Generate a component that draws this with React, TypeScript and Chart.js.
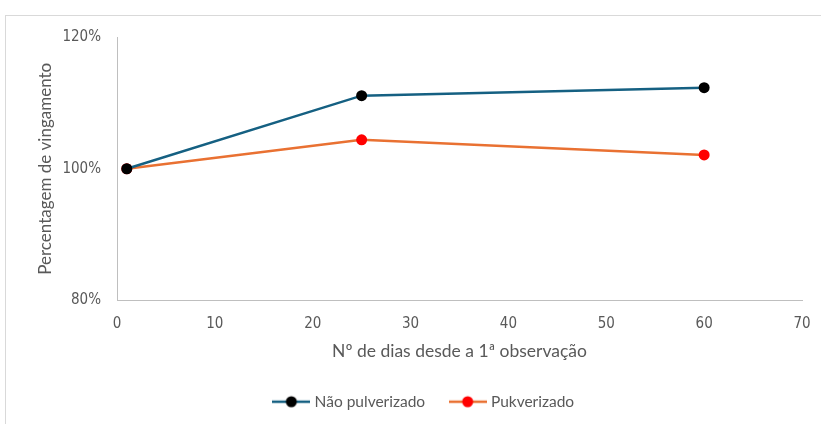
import React, { useEffect, useRef } from "react";
import { Chart, registerables } from "chart.js";

Chart.register(...registerables);

const days: number[] = [1, 25, 60];
const naoPulverizado: number[] = [100, 111.1, 112.3];
const pulverizado: number[] = [100, 104.4, 102.1];
const seriesLabels: string[] = ["Não pulverizado", "Pukverizado"];
const xTitle = "Nº de dias desde a 1ª observação";
const yTitle = "Percentagem de vingamento";

const BLUE = "#156082";
const ORANGE = "#E97132";
const TICK_COLOR = "#595959";
const AXIS_COLOR = "#BFBFBF";
const TICK_FONT = "'DejaVu Sans Condensed', Roboto, sans-serif";
const TEXT_FONT = "Lato, sans-serif";

const LEGEND_DX = 24;
const LEGEND_DY = -3.5;

function makeLegendIcon(lineColor: string, dotColor: string): HTMLCanvasElement {
  const c = document.createElement("canvas");
  c.width = 38;
  c.height = 14;
  const ctx = c.getContext("2d")!;
  ctx.strokeStyle = lineColor;
  ctx.lineWidth = 2.5;
  ctx.beginPath();
  ctx.moveTo(0, 7);
  ctx.lineTo(38, 7);
  ctx.stroke();
  ctx.fillStyle = dotColor;
  ctx.beginPath();
  ctx.arc(19, 7, 5.5, 0, Math.PI * 2);
  ctx.fill();
  return c;
}

const legendShift = {
  id: "legendShift",
  afterLayout(chart: any) {
    const l = chart.legend;
    if (!l) return;
    l.left += LEGEND_DX;
    l.right += LEGEND_DX;
    l.top += LEGEND_DY;
    l.bottom += LEGEND_DY;
  },
};

export default function App() {
  const ref = useRef<HTMLCanvasElement | null>(null);

  useEffect(() => {
    if (!ref.current) return;
    const icons = [makeLegendIcon(BLUE, "#000000"), makeLegendIcon(ORANGE, "#FF0000")];
    const chart = new Chart(ref.current, {
      type: "line",
      plugins: [legendShift],
      data: {
        datasets: [
          {
            label: seriesLabels[0],
            data: days.map((d, i) => ({ x: d, y: naoPulverizado[i] })),
            borderColor: BLUE,
            backgroundColor: "#000000",
            borderWidth: 2.5,
            pointRadius: 5.5,
            pointBackgroundColor: "#000000",
            pointBorderWidth: 0,
            tension: 0,
          },
          {
            label: seriesLabels[1],
            data: days.map((d, i) => ({ x: d, y: pulverizado[i] })),
            borderColor: ORANGE,
            backgroundColor: "#FF0000",
            borderWidth: 2.5,
            pointRadius: 5.5,
            pointBackgroundColor: "#FF0000",
            pointBorderWidth: 0,
            tension: 0,
          },
        ],
      },
      options: {
        animation: false,
        responsive: false,
        maintainAspectRatio: false,
        layout: { padding: { top: 37, right: 19, left: 0, bottom: 1 } },
        plugins: {
          tooltip: { enabled: false },
          legend: {
            position: "bottom",
            labels: {
              usePointStyle: true,
              pointStyleWidth: 31,
              boxHeight: 14,
              padding: 27,
              color: TICK_COLOR,
              font: { family: TEXT_FONT, size: 15.5 },
              generateLabels: (ch: any) =>
                ch.data.datasets.map((ds: any, i: number) => ({
                  text: ds.label,
                  pointStyle: icons[i],
                  fillStyle: ds.borderColor,
                  strokeStyle: ds.borderColor,
                  lineWidth: 0,
                  hidden: false,
                  datasetIndex: i,
                  fontColor: TICK_COLOR,
                })),
            },
          },
        },
        scales: {
          x: {
            type: "linear",
            min: 0,
            max: 70,
            ticks: {
              stepSize: 10,
              color: TICK_COLOR,
              padding: 10,
              font: { family: TICK_FONT, size: 15, lineHeight: 1.87 },
            },
            grid: { display: false, drawTicks: false },
            border: { display: true, color: AXIS_COLOR, width: 1 },
            title: {
              display: true,
              text: xTitle,
              color: TICK_COLOR,
              font: { family: TEXT_FONT, size: 17.5 },
              padding: { top: 0, bottom: 8.5 },
            },
            afterFit: (s: any) => {
              s.height = 70;
            },
          },
          y: {
            type: "linear",
            min: 80,
            max: 120,
            ticks: {
              stepSize: 20,
              color: TICK_COLOR,
              padding: 16,
              font: { family: TICK_FONT, size: 15 },
              callback: (v: any) => v + "%",
            },
            grid: { display: false, drawTicks: false },
            border: { display: true, color: AXIS_COLOR, width: 1 },
            title: {
              display: true,
              text: yTitle,
              color: TICK_COLOR,
              font: { family: TEXT_FONT, size: 17 },
              padding: { top: 35.8, bottom: 0 },
            },
            afterFit: (s: any) => {
              s.width = 117;
            },
          },
        },
      },
    });
    return () => chart.destroy();
  }, []);

  return (
    <div
      style={{
        position: "absolute",
        left: 0,
        top: 0,
        width: 821,
        height: 424,
        background: "#ffffff",
        overflow: "hidden",
      }}
    >
      <div
        style={{
          position: "absolute",
          left: 5,
          top: 15,
          width: 900,
          height: 500,
          borderTop: "1px solid #D9D9D9",
          borderLeft: "1px solid #D9D9D9",
        }}
      />
      <canvas
        ref={ref}
        width={821}
        height={424}
        style={{ position: "absolute", left: 0, top: 0, width: 821, height: 424 }}
      />
    </div>
  );
}
